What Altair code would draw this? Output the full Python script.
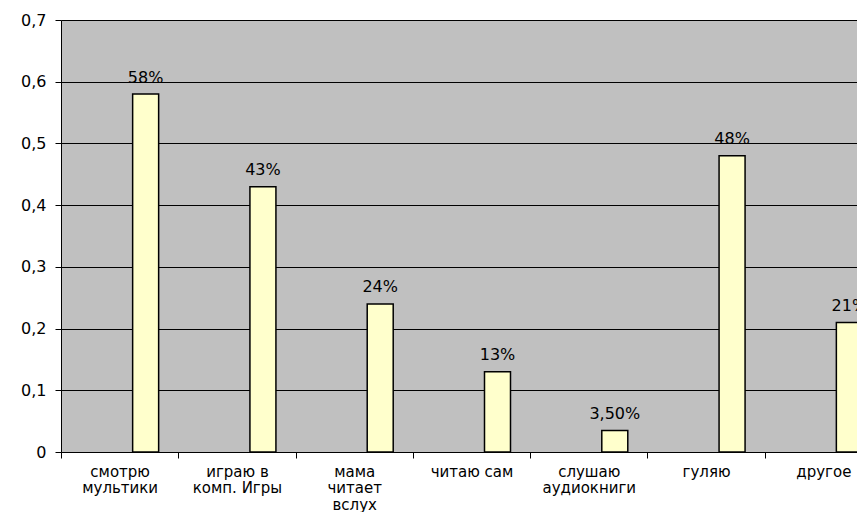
import altair as alt
import pandas as pd

categories = ["смотрю|мультики", "играю в|комп. Игры", "мама|читает|вслух",
              "читаю сам", "слушаю|аудиокниги", "гуляю", "другое"]
values = [0.58, 0.43, 0.24, 0.13, 0.035, 0.48, 0.21]
value_labels = ["58%", "43%", "24%", "13%", "3,50%", "48%", "21%"]
y_ticks = [0, 0.1, 0.2, 0.3, 0.4, 0.5, 0.6, 0.7]

df = pd.DataFrame({"cat": categories, "val": values, "lab": value_labels})

FONT = "DejaVu Sans"

x_enc = alt.X(
    "cat:N",
    sort=categories,
    scale=alt.Scale(paddingInner=0, paddingOuter=0),
    axis=alt.Axis(
        title=None,
        labelAngle=0,
        labelExpr="split(datum.label, '|')",
        labelLineHeight=16.5,
        labelBaseline="top",
        labelPadding=6,
        labelFont=FONT,
        labelFontSize=15,
        labelColor="#000000",
        tickBand="extent",
        tickSize=6,
        tickColor="#000000",
        domainColor="#000000",
        grid=False,
        labelOverlap=False,
    ),
)

y_enc = alt.Y(
    "val:Q",
    scale=alt.Scale(domain=[0, 0.7], nice=False),
    axis=alt.Axis(
        title=None,
        values=y_ticks,
        labelExpr="replace(format(datum.value, '.1~f'), '.', ',')",
        labelFont=FONT,
        labelFontSize=16,
        labelColor="#000000",
        labelPadding=9,
        tickSize=6,
        tickColor="#000000",
        domainColor="#000000",
        grid=True,
        gridColor="#000000",
        gridWidth=1,
    ),
)

bars = alt.Chart(df).mark_bar(
    width=26, xOffset=26, fill="#FFFFCC", stroke="#000000", strokeWidth=1.5
).encode(x=x_enc, y=y_enc)

texts = alt.Chart(df).mark_text(
    xOffset=26, dy=-11.5, baseline="alphabetic", font=FONT, fontSize=16, color="#000000"
).encode(x=alt.X("cat:N", sort=categories), y="val:Q", text="lab:N")

chart = (
    alt.layer(bars, texts)
    .properties(
        width=821,
        height=432,
        autosize=alt.AutoSizeParams(type="none"),
        padding={"top": 12, "left": 53, "right": -25, "bottom": 60},
    )
    .configure_view(fill="#C0C0C0", strokeOpacity=0)
)

chart.save("out.html", embed_options={"renderer": "svg", "actions": False})
